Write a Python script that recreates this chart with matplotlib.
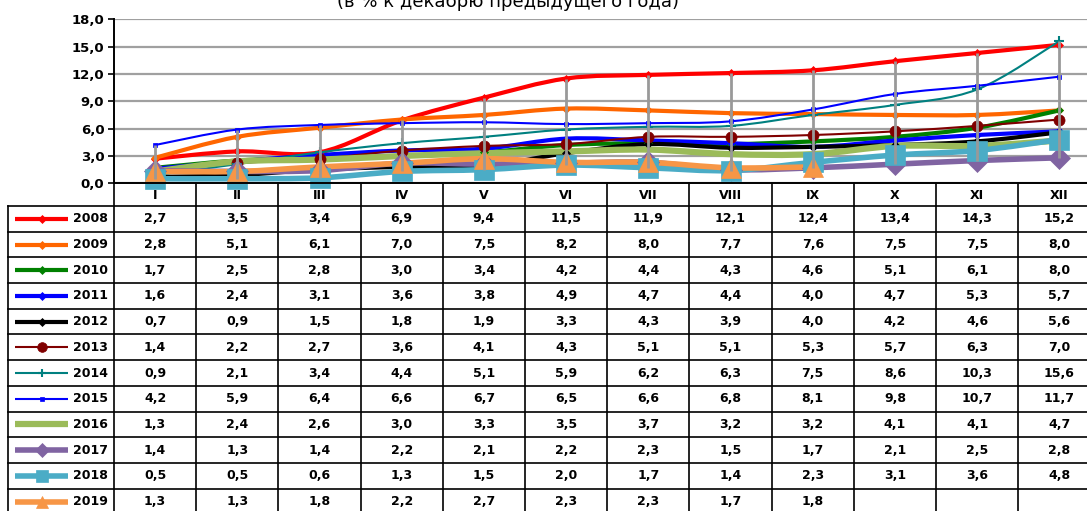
import numpy as np
import matplotlib
matplotlib.use("Agg")
import matplotlib.pyplot as plt
from matplotlib.path import Path
from matplotlib.patches import PathPatch

plt.rcParams['font.family'] = ['DejaVu Sans']

# data: % to December of previous year
months = ["I", "II", "III", "IV", "V", "VI", "VII", "VIII", "IX", "X", "XI", "XII"]
years = ["2008", "2009", "2010", "2011", "2012", "2013",
         "2014", "2015", "2016", "2017", "2018", "2019"]
v2008 = [2.7, 3.5, 3.4, 6.9, 9.4, 11.5, 11.9, 12.1, 12.4, 13.4, 14.3, 15.2]
v2009 = [2.8, 5.1, 6.1, 7.0, 7.5, 8.2, 8.0, 7.7, 7.6, 7.5, 7.5, 8.0]
v2010 = [1.7, 2.5, 2.8, 3.0, 3.4, 4.2, 4.4, 4.3, 4.6, 5.1, 6.1, 8.0]
v2011 = [1.6, 2.4, 3.1, 3.6, 3.8, 4.9, 4.7, 4.4, 4.0, 4.7, 5.3, 5.7]
v2012 = [0.7, 0.9, 1.5, 1.8, 1.9, 3.3, 4.3, 3.9, 4.0, 4.2, 4.6, 5.6]
v2013 = [1.4, 2.2, 2.7, 3.6, 4.1, 4.3, 5.1, 5.1, 5.3, 5.7, 6.3, 7.0]
v2014 = [0.9, 2.1, 3.4, 4.4, 5.1, 5.9, 6.2, 6.3, 7.5, 8.6, 10.3, 15.6]
v2015 = [4.2, 5.9, 6.4, 6.6, 6.7, 6.5, 6.6, 6.8, 8.1, 9.8, 10.7, 11.7]
v2016 = [1.3, 2.4, 2.6, 3.0, 3.3, 3.5, 3.7, 3.2, 3.2, 4.1, 4.1, 4.7]
v2017 = [1.4, 1.3, 1.4, 2.2, 2.1, 2.2, 2.3, 1.5, 1.7, 2.1, 2.5, 2.8]
v2018 = [0.5, 0.5, 0.6, 1.3, 1.5, 2.0, 1.7, 1.4, 2.3, 3.1, 3.6, 4.8]
v2019 = [1.3, 1.3, 1.8, 2.2, 2.7, 2.3, 2.3, 1.7, 1.8]
series = [v2008, v2009, v2010, v2011, v2012, v2013,
          v2014, v2015, v2016, v2017, v2018, v2019]

# style per year: color, line width, marker, marker size, legend marker size
styles = [
    ("#ff0000", 3.0, "D", 4, 4),
    ("#ff6600", 3.0, "D", 4, 4),
    ("#008000", 3.0, "D", 4, 4),
    ("#0000ff", 3.0, "D", 4, 4),
    ("#000000", 3.0, "D", 4, 4),
    ("#800000", 1.5, "o", 8, 7),
    ("#008080", 1.5, "+", 7, 6),
    ("#0000ff", 1.5, "s", 3, 3),
    ("#9bbb59", 4.5, None, 0, 0),
    ("#8064a2", 4.0, "D", 11, 7),
    ("#4bacc6", 4.0, "s", 14, 8),
    ("#f79646", 4.0, "^", 14, 8),
]


def smooth_path(xs, ys):
    # excel-like smoothed line as bezier curves through the points
    pts = np.column_stack([xs, ys])
    n = len(pts)
    verts = [pts[0]]
    codes = [Path.MOVETO]
    for i in range(n - 1):
        p0 = pts[max(i - 1, 0)]
        p1 = pts[i]
        p2 = pts[i + 1]
        p3 = pts[min(i + 2, n - 1)]
        verts += [p1 + (p2 - p0) / 6, p2 - (p3 - p1) / 6, p2]
        codes += [Path.CURVE4] * 3
    return Path(verts, codes)


def fmt(v):
    return ("%.1f" % v).replace(".", ",")


W, H = 1087, 511
COLW = 82.2
X0 = 114
Y_TOP, Y_ZERO = 19.3, 183.3

fig = plt.figure(figsize=(W / 100, H / 100), dpi=100)
ax = fig.add_axes([X0 / W, 1 - Y_ZERO / H, 12 * COLW / W, (Y_ZERO - Y_TOP) / H])
ax.set_xlim(0, 12)
ax.set_ylim(0, 18)
ax.set_yticks(np.arange(0, 19, 3))
ax.set_yticklabels([fmt(t) for t in np.arange(0, 19, 3)], fontsize=9.5, fontweight="bold")
ax.set_xticks([])
ax.tick_params(axis="y", length=4, width=1.2, pad=3)
ax.grid(axis="y", color="#a0a0a0", lw=1.6)
ax.set_axisbelow(True)
for s in ["top", "right"]:
    ax.spines[s].set_visible(False)
ax.spines["left"].set_linewidth(1.4)
ax.spines["bottom"].set_linewidth(1.4)
ax.spines["bottom"].set_zorder(12)

for vals, (c, lw, mk, ms, _) in zip(series, styles):
    xs = np.arange(len(vals)) + 0.5
    ax.add_patch(PathPatch(smooth_path(xs, vals), fill=False, ec=c, lw=lw,
                           capstyle="round", joinstyle="round", zorder=3))
    if mk:
        ax.plot(xs, vals, ls="none", marker=mk, ms=ms, color=c,
                mew=1.5 if mk == "+" else 0.5, zorder=4, clip_on=False)

# high-low lines
for i in range(12):
    col = [v[i] for v in series if len(v) > i]
    ax.vlines(i + 0.5, min(col), max(col), color="#999999", lw=2, zorder=10)

fig.text(508 / W, 1 - 2 / H, "(в % к декабрю предыдущего года)", fontsize=13,
         ha="center", va="center")

# data table
tax = fig.add_axes([0, 0, 1, 1])
tax.set_xlim(0, W)
tax.set_ylim(H, 0)
tax.axis("off")
ROW0, ROWH = 206, 25.7
right = X0 + 12 * COLW
tax.plot([X0, X0], [Y_ZERO, H], color="black", lw=1.2)
for k in range(1, 13):
    xk = X0 + k * COLW
    tax.plot([xk, xk], [Y_ZERO, H], color="black", lw=1.2)
tax.plot([8, 8], [ROW0, H], color="black", lw=1.2)
for r in range(13):
    yr = ROW0 + r * ROWH
    tax.plot([8, right], [yr, yr], color="black", lw=1.2)

for i, m in enumerate(months):
    tax.text(X0 + (i + 0.5) * COLW, 195.5, m, ha="center", va="center",
             fontsize=9, fontweight="bold")

for r, (yr_lab, vals, (c, lw, mk, ms, lms)) in enumerate(zip(years, series, styles)):
    yc = ROW0 + (r + 0.5) * ROWH
    tax.plot([15, 68], [yc, yc], color=c, lw=lw, solid_capstyle="butt")
    if mk:
        tax.plot([41.5], [yc], marker=mk, ms=lms, color=c,
                 mew=1.5 if mk == "+" else 0.5, ls="none")
    tax.text(73, yc, yr_lab, ha="left", va="center", fontsize=9, fontweight="bold")
    for i, v in enumerate(vals):
        tax.text(X0 + (i + 0.5) * COLW, yc, fmt(v), ha="center", va="center",
                 fontsize=9, fontweight="bold")

fig.savefig("out.png", dpi=100)
